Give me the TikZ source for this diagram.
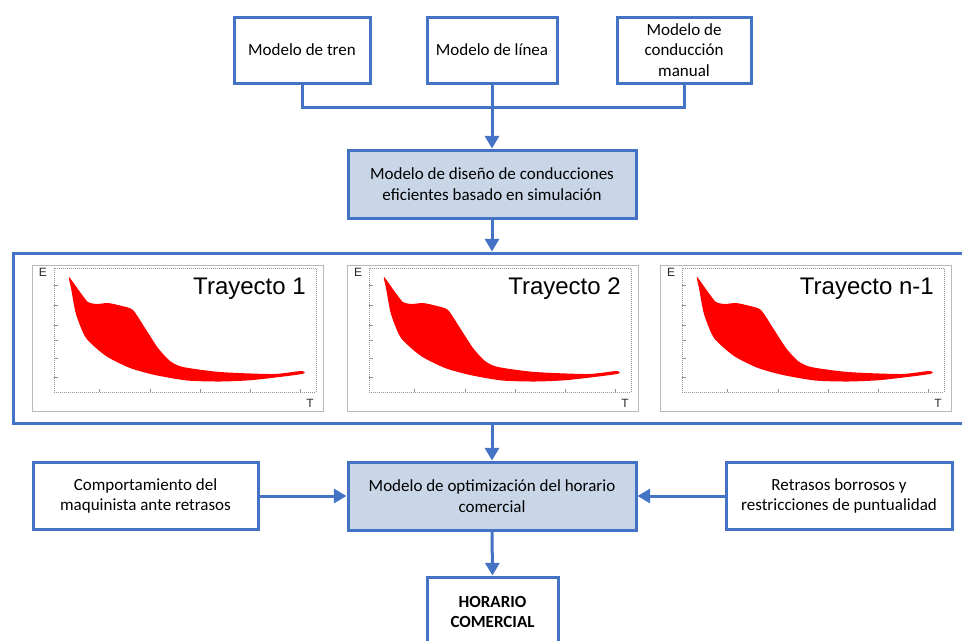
\documentclass[tikz,border=0pt]{standalone}
\usepackage{fontspec}
\setmainfont{Carlito}
\newfontfamily\plotfont{Liberation Sans}
\usetikzlibrary{arrows.meta,positioning,calc}
\definecolor{flowblue}{RGB}{68,114,196}
\definecolor{modelfill}{RGB}{201,214,232}
\definecolor{plotred}{RGB}{255,0,0}
\tikzset{
  box/.style={rectangle, draw=flowblue, line width=2.25pt, fill=white,
              align=center, inner sep=2pt,
              font=\fontsize{12.75}{15.6}\selectfont},
  modelbox/.style={box, fill=modelfill, minimum width=216pt, minimum height=51pt},
  link/.style={draw=flowblue, line width=2.25pt},
  arr/.style={link, -{Triangle[length=9.5pt,width=10.5pt]}},
  panelframe/.style={draw=gray!55, line width=0.6pt},
  axisframe/.style={draw=gray!85, line width=0.5pt, densely dotted},
  ptitle/.style={font=\plotfont\fontsize{18}{20}\selectfont, anchor=east, inner sep=0pt},
  axlabel/.style={font=\plotfont\fontsize{9}{10}\selectfont, inner sep=0pt, text=black!85},
}

\begin{document}
\begin{tikzpicture}[x=0.75pt, y=-0.75pt]
  \clip (0,0) rectangle (962,640);
  % Modelos de entrada
  \node[box, minimum width=102pt, minimum height=49.5pt] (tren) at (302,50) {Modelo de tren};
  \node[box, minimum width=97.5pt, minimum height=49.5pt] (linea) at (492,50) {Modelo de línea};
  \node[box, minimum width=100.5pt, minimum height=49.5pt] (manual) at (684,50) {Modelo de\\conducción\\manual};
  \coordinate (hub) at (492,107);
  \node[modelbox] (diseno) at (492,184) {Modelo de diseño de conducciones\\eficientes basado en simulación};
  % Recuadro de trayectos
  \node[box, fill=none, minimum width=721.5pt, minimum height=127.5pt] (panel) at (494,338) {};
  \foreach \dx/\tname in {0/1, 315/2, 628/n-1}{
    \begin{scope}[shift={(\dx,0)}]
      \draw[panelframe] (32,265) rectangle (323,411);
      \draw[axisframe] (54,268) rectangle (316,392);
      \foreach \tx in {99,150,200,250,300} \draw[gray!85, line width=0.5pt] (\tx,392) -- (\tx,388.5);
      \foreach \ty in {285,305,325,340,358,377} \draw[gray!85, line width=0.5pt] (54,\ty) -- (57.5,\ty);
      \fill[plotred] plot[smooth cycle, tension=0.4] coordinates {
        (69,277) (80,292) (88,302) (97,304) (108,303) (122,306) (133,310)
        (145,328) (158,348) (170,361) (183,367) (220,372) (273,374) (301,371)
        (302,374) (253,380) (220,381.5) (187,380.5) (155,375) (130,368)
        (106,356) (86,338) (76,314) (71,288)};
      \node[ptitle] at (306,289) {Trayecto \tname};
      \node[axlabel] at (43,272) {E};
      \node[axlabel] at (310,403) {T};
    \end{scope}
  }
  % Optimizacion
  \node[modelbox] (opt) at (492,496) {Modelo de optimización del horario\\comercial};
  \node[box, minimum width=168.75pt, minimum height=50.25pt] (conducta) at (145.5,496) {Comportamiento del\\maquinista ante retrasos};
  \node[box, minimum width=169.5pt, minimum height=50.25pt] (retrasos) at (839,496) {Retrasos borrosos y\\restricciones de puntualidad};
  \node[box, font=\fontsize{12.75}{14.3}\selectfont\bfseries, minimum width=98.25pt, minimum height=52.5pt] (horario) at (492.5,612) {HORARIO\\COMERCIAL};
  % Conexiones
  \draw[link] (tren.south) |- (hub) -| (manual.south);
  \draw[arr] (linea.south) -- (diseno.north);
  \draw[arr] (diseno.south) -- (diseno.south |- panel.north);
  \draw[arr] (opt.north |- panel.south) -- (opt.north);
  \draw[arr] (conducta.east) -- (opt.west);
  \draw[arr] (retrasos.west) -- (opt.east);
  \draw[arr] (opt.south) -- (horario.north);
\end{tikzpicture}
\end{document}
